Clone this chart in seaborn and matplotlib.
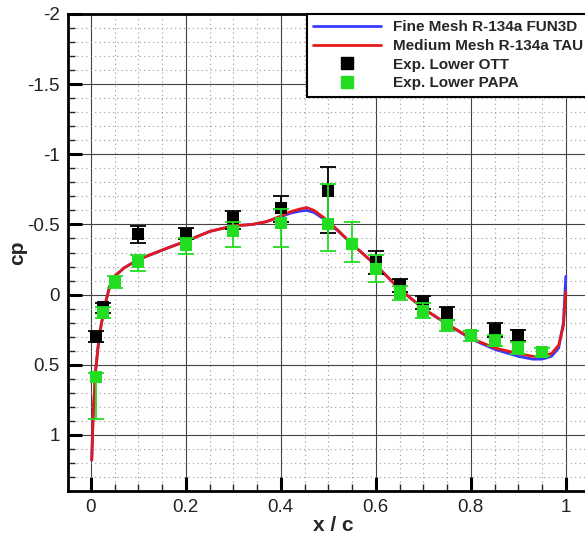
import numpy as np
import pandas as pd
import seaborn as sns
import matplotlib
matplotlib.use("Agg")
import matplotlib.pyplot as plt
from matplotlib.lines import Line2D
from matplotlib.ticker import MultipleLocator

# ---------------- data ----------------
xc = [0.002, 0.005, 0.01, 0.015, 0.02, 0.03, 0.04, 0.05, 0.07, 0.1, 0.13, 0.16,
      0.2, 0.25, 0.3, 0.34, 0.37, 0.4, 0.42, 0.44, 0.455, 0.47, 0.49, 0.5, 0.52,
      0.55, 0.58, 0.6, 0.65, 0.7, 0.75, 0.8, 0.85, 0.9, 0.93, 0.95, 0.97, 0.985,
      0.995, 1.0]
cp_tau = [1.18, 0.85, 0.55, 0.38, 0.25, 0.07, -0.06, -0.13, -0.19, -0.25, -0.29,
          -0.33, -0.38, -0.45, -0.49, -0.50, -0.52, -0.56, -0.59, -0.61, -0.62,
          -0.60, -0.55, -0.52, -0.46, -0.36, -0.27, -0.21, -0.04, 0.10, 0.21,
          0.31, 0.38, 0.42, 0.44, 0.44, 0.42, 0.36, 0.22, -0.02]
cp_fun3d = [1.18, 0.85, 0.55, 0.38, 0.25, 0.07, -0.06, -0.13, -0.19, -0.25, -0.29,
            -0.33, -0.38, -0.45, -0.49, -0.50, -0.52, -0.555, -0.58, -0.595, -0.60,
            -0.585, -0.54, -0.51, -0.455, -0.36, -0.27, -0.21, -0.04, 0.10, 0.21,
            0.315, 0.39, 0.44, 0.46, 0.46, 0.44, 0.38, 0.20, -0.13]

ott_x = [0.01, 0.025, 0.1, 0.2, 0.3, 0.4, 0.5, 0.6, 0.65, 0.7, 0.75, 0.85, 0.9]
ott_cp = [0.30, 0.09, -0.43, -0.435, -0.545, -0.62, -0.74, -0.23, -0.07, 0.05, 0.13, 0.25, 0.29]
ott_lo = [0.04, 0.03, 0.06, 0.04, 0.05, 0.08, 0.17, 0.08, 0.04, 0.04, 0.04, 0.05, 0.04]  # toward more negative cp
ott_hi = [0.04, 0.04, 0.06, 0.04, 0.08, 0.10, 0.30, 0.08, 0.05, 0.05, 0.05, 0.05, 0.04]  # toward more positive cp

papa_x = [0.01, 0.025, 0.05, 0.1, 0.2, 0.3, 0.4, 0.5, 0.55, 0.6, 0.65, 0.7, 0.75,
          0.8, 0.85, 0.9, 0.95]
papa_cp = [0.59, 0.13, -0.09, -0.23, -0.35, -0.45, -0.51, -0.50, -0.36, -0.18,
           -0.01, 0.12, 0.22, 0.29, 0.33, 0.38, 0.41]
papa_lo = [0.03, 0.04, 0.04, 0.05, 0.05, 0.07, 0.10, 0.29, 0.16, 0.10, 0.05, 0.06, 0.04, 0.03, 0.04, 0.04, 0.03]
papa_hi = [0.30, 0.04, 0.04, 0.06, 0.06, 0.11, 0.17, 0.19, 0.13, 0.09, 0.05, 0.05, 0.04, 0.04, 0.04, 0.04, 0.03]

labels = ["Fine Mesh R-134a FUN3D", "Medium Mesh R-134a TAU",
          "Exp. Lower OTT", "Exp. Lower PAPA"]

BLUE = "#3a3aff"
RED = "#e41a1a"
GREEN = "#22dd22"

# ---------------- figure ----------------
sns.set_style("white")
plt.rcParams["font.family"] = ["Liberation Sans", "DejaVu Sans"]

W, H = 585, 535
fig = plt.figure(figsize=(W / 100, H / 100), dpi=100)
xmin, xmax = -0.048, 1.07
px_per_unit = 475.0
ax_left_px, ax_top_px, ax_bot_px = 68, 14, 491
ax_w_px = (xmax - xmin) * px_per_unit
ax = fig.add_axes([ax_left_px / W, (H - ax_bot_px) / H, ax_w_px / W,
                   (ax_bot_px - ax_top_px) / H])

df_f = pd.DataFrame({"x": xc, "cp": cp_fun3d})
df_t = pd.DataFrame({"x": xc, "cp": cp_tau})
sns.lineplot(data=df_f, x="x", y="cp", sort=False, color=BLUE, lw=2, ax=ax, zorder=3)
sns.lineplot(data=df_t, x="x", y="cp", sort=False, color=RED, lw=2, ax=ax, zorder=4)

ax.errorbar(ott_x, ott_cp, yerr=[ott_lo, ott_hi], fmt="none", ecolor="black",
            elinewidth=1.3, capsize=6, capthick=1.3, zorder=5)
df_o = pd.DataFrame({"x": ott_x, "cp": ott_cp})
sns.scatterplot(data=df_o, x="x", y="cp", marker="s", s=75, color="black",
                edgecolor="black", linewidth=0, ax=ax, zorder=6)

ax.errorbar(papa_x, papa_cp, yerr=[papa_lo, papa_hi], fmt="none", ecolor=GREEN,
            elinewidth=1.3, capsize=6, capthick=1.3, zorder=7)
df_p = pd.DataFrame({"x": papa_x, "cp": papa_cp})
sns.scatterplot(data=df_p, x="x", y="cp", marker="s", s=75, color=GREEN,
                edgecolor=GREEN, linewidth=0, ax=ax, zorder=8)

ax.set_xlim(xmin, xmax)
ax.set_ylim(1.4, -2.0)

ax.xaxis.set_major_locator(MultipleLocator(0.2))
ax.xaxis.set_minor_locator(MultipleLocator(0.05))
ax.yaxis.set_major_locator(MultipleLocator(0.5))
ax.yaxis.set_minor_locator(MultipleLocator(0.1))
ax.set_xticks([0, 0.2, 0.4, 0.6, 0.8, 1.0])
ax.set_xticklabels(["0", "0.2", "0.4", "0.6", "0.8", "1"])
ax.set_yticks([-2, -1.5, -1, -0.5, 0, 0.5, 1])
ax.set_yticklabels(["-2", "-1.5", "-1", "-0.5", "0", "0.5", "1"])

ax.grid(True, which="major", color="#444444", lw=0.8, ls="-", zorder=0)
ax.grid(True, which="minor", color="#9a9a9a", lw=0.8, ls=(0, (1, 3)), zorder=0)
ax.set_axisbelow(True)

ax.tick_params(which="major", direction="in", length=10, width=2.2,
               labelsize=13.5, pad=6, colors="black", left=True, bottom=True)
ax.tick_params(which="minor", direction="in", length=5, width=1.0,
               left=True, bottom=True)
for lbl in ax.get_xticklabels() + ax.get_yticklabels():
    lbl.set_color("#222222")

for s in ax.spines.values():
    s.set_linewidth(2)
    s.set_color("black")

ax.set_xlabel("x / c", fontsize=15, fontweight="bold", labelpad=0)
ax.set_ylabel("cp", fontsize=15, fontweight="bold", labelpad=0)

handles = [
    Line2D([], [], color=BLUE, lw=2),
    Line2D([], [], color=RED, lw=2),
    Line2D([], [], color="black", marker="s", ls="none", markersize=8),
    Line2D([], [], color=GREEN, marker="s", ls="none", markersize=8),
]
leg = ax.legend(handles, labels, loc="upper left",
                bbox_to_anchor=((307 - ax_left_px) / ax_w_px, 1.0),
                borderaxespad=0, frameon=True, fancybox=False, framealpha=1,
                edgecolor="black", handlelength=4.4, handletextpad=0.78,
                labelspacing=0.3, borderpad=0.42,
                prop={"family": "Liberation Sans", "weight": "bold", "size": 11})
leg.get_frame().set_linewidth(1.5)
leg.set_zorder(20)

fig.savefig("out.png", dpi=100)
